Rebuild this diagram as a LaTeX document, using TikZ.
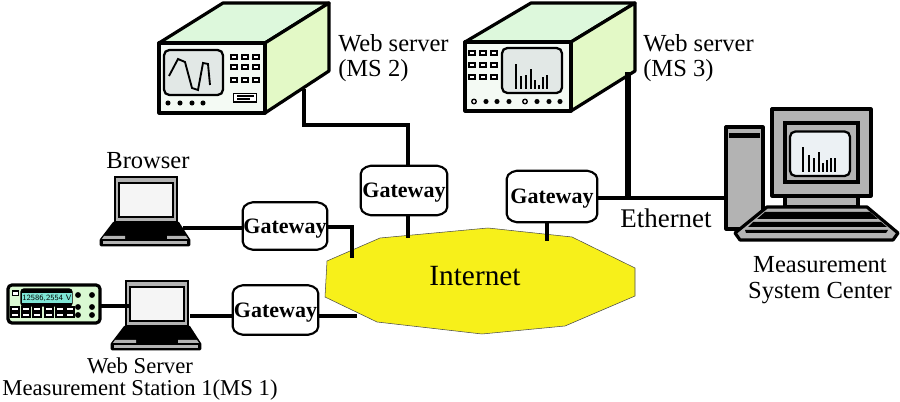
\documentclass[tikz,border=0pt]{standalone}
\usepackage{fontspec}
\setmainfont{Liberation Serif}
\usepackage{tikz}
\usetikzlibrary{positioning,calc}

\definecolor{topgreen}{HTML}{DDF8DC}
\definecolor{sidegreen}{HTML}{E3F9C6}
\definecolor{frontgreen}{HTML}{F4FAF4}
\definecolor{screengray}{HTML}{E2E8E6}
\definecolor{screenblue}{HTML}{ECF1F4}
\definecolor{cloudyellow}{HTML}{F7F01A}
\definecolor{pcgray}{HTML}{B3B3B3}
\definecolor{metergreen}{HTML}{DAF9D2}
\definecolor{metercyan}{HTML}{7FE6D6}

\tikzset{
    wire/.style={line width=2.4pt},
    heavywire/.style={line width=3.4pt},
    boxline/.style={line width=2.4pt, line join=round},
    gateline/.style={line width=1.6pt, line join=round},
    gatebox/.style={inner sep=0pt, text depth=0pt, font=\fontsize{16.5}{18}\selectfont\bfseries},
    caption/.style={inner sep=0pt, align=center, font=\fontsize{18.4}{19}\selectfont},
    knob/.style={fill=black},
    pics/laptop/.style={code={
        % Lid
        \draw[line width=2pt, fill=pcgray] (115,177) rectangle (177,222);
        \draw[line width=1.8pt, fill=white!96!black] (119,183) rectangle (173,217);
        % Base
        \draw[line width=2pt, line join=round, fill=black] (114,223) -- (178,223) -- (189,240) -- (189,245) -- (101,245) -- (101,240) -- cycle;
        \fill[pcgray] (104,236) -- (125,236) -- (125,239) -- (102,239) -- cycle;
        \fill[pcgray] (167,236) -- (186,236) -- (188,239) -- (167,239) -- cycle;
        \fill[pcgray] (103,241) rectangle (187,244);
    }}
}

\begin{document}
\begin{tikzpicture}[x=0.75pt, y=-0.75pt]
    \useasboundingbox (0,0) rectangle (900,402);

    % Internet
    \draw[line width=0.4pt, draw=black!70, fill=cloudyellow] (327,261) -- (380,238) -- (488,228) -- (572,237) -- (635,268) -- (635,296) -- (565,326) -- (482,334) -- (377,322) -- (325,297) -- cycle;
    \node[inner sep=0pt, font=\fontsize{22}{24}\selectfont] (inet) at (475,276) {Internet};
    \coordinate (inleft) at (352,258);
    \coordinate (intop) at (408,238);
    \coordinate (inright) at (547,241);
    \coordinate (inlow) at (357,316);

    % Gateways
    \node[gatebox, minimum width=63pt, minimum height=35.25pt] (gwa) at (285,226) {Gateway};
    \node[gatebox, minimum width=64.5pt, minimum height=36.75pt] (gwb) at (404,190.5) {Gateway};
    \node[gatebox, minimum width=67.5pt, minimum height=38.25pt] (gwc) at (552,196.5) {Gateway};
    \node[gatebox, minimum width=63.75pt, minimum height=36.75pt] (gwd) at (275.5,310) {Gateway};
    \foreach \g in {gwa, gwb, gwc, gwd} {
        \draw[gateline] ($(\g.north west)+(0,8)$) .. controls +(0,-6) and +(-6,-1) .. ($(\g.north west)+(15,0)$)
            -- ($(\g.north east)+(-15,0)$) .. controls +(6,-1) and +(0,-6) .. ($(\g.north east)+(0,8)$)
            -- ($(\g.south east)+(0,-8)$) .. controls +(0,6) and +(6,1) .. ($(\g.south east)+(-15,0)$)
            -- ($(\g.south west)+(15,0)$) .. controls +(-6,1) and +(0,6) .. ($(\g.south west)+(0,-8)$) -- cycle;
    }

    % Web server MS 2
    \draw[boxline, fill=topgreen] (159,43) -- (223,3) -- (329,3) -- (265,43) -- cycle;
    \draw[boxline, fill=sidegreen] (265,43) -- (329,3) -- (329,71) -- (265,113) -- cycle;
    \draw[boxline, fill=frontgreen] (159,43) rectangle (265,113);
    \draw[line width=1.7pt, fill=screengray, rounded corners=4pt] (164,50) rectangle (223,95);
    \draw[line width=1.4pt] (169,76) -- (178,59) -- (185,62) -- (192,88) -- (198,90) -- (203,63) -- (208,64) -- (210,85);
    \foreach \y in {57,67,80} {
        \foreach \x in {234,245,256} {
            \draw[line width=1.2pt, fill=white] (\x-3,\y-1.8) rectangle (\x+3,\y+1.8);
        }
    }
    \foreach \x in {168,180,192,203} {
        \fill[knob] (\x,103) circle (1.9pt);
    }
    \draw[line width=1pt, fill=white] (233.5,93.5) rectangle (256.5,102);
    \draw[line width=1pt] (237,96) -- (254,96) (237,99) -- (250,99);
    \node[caption, align=left, anchor=west] (msb) at (338,58) {Web server\\(MS 2)};
    \coordinate (msbout) at (304,89);

    % Web server MS 3
    \draw[boxline, fill=topgreen] (465,42) -- (531,3) -- (635,3) -- (571,42) -- cycle;
    \draw[boxline, fill=sidegreen] (571,42) -- (635,3) -- (635,71) -- (571,111) -- cycle;
    \draw[boxline, fill=frontgreen] (465,42) rectangle (571,111);
    \draw[line width=1.7pt, fill=screengray, rounded corners=4pt] (502,48) rectangle (562,93);
    \foreach \x/\t in {515.5/64, 520.5/76, 526/75, 531/69, 535/80, 539/85, 543/77, 547/75} {
        \draw[line width=1.5pt] (\x,89) -- (\x,\t);
    }
    \foreach \y in {53,65,77} {
        \foreach \x in {472,483,494} {
            \draw[line width=1.2pt, fill=white] (\x-3,\y-1.8) rectangle (\x+3,\y+1.8);
        }
    }
    \foreach \x in {474,525} {
        \draw[line width=1pt, fill=white] (\x,101.5) circle (1.7pt);
    }
    \foreach \x in {486,497,509,537,549,560} {
        \fill[knob] (\x,101.5) circle (1.9pt);
    }
    \node[caption, align=left, anchor=west] (msc) at (643,58) {Web server\\(MS 3)};
    \coordinate (mscout) at (628,72);
    \coordinate (hub) at (628,198);

    % Measurement system center
    \draw[boxline, fill=pcgray] (726,127) rectangle (763,229);
    \fill (729,133) rectangle (760,138);
    \draw[boxline, fill=pcgray] (772,109) rectangle (871,196);
    \draw[line width=2.4pt, fill=pcgray] (785,123) rectangle (858,182);
    \draw[line width=1.7pt, fill=screenblue, rounded corners=4pt] (790,131.5) rectangle (850,176);
    \foreach \x/\t in {803/147, 808.5/155, 814/158, 819/152, 823/163, 827/160, 831/158, 835/158} {
        \draw[line width=1.5pt] (\x,172) -- (\x,\t);
    }
    \draw[boxline, fill=pcgray] (785,196) rectangle (858,207);
    \draw[boxline, fill=pcgray] (767,207) -- (867,207) -- (898,233) -- (893,240) -- (740,240) -- (735,233) -- cycle;
    \fill (765,212) -- (870,212) -- (878,219) -- (757,219) -- cycle;
    \fill (753,222) -- (881,222) -- (887,227) -- (748,227) -- cycle;
    \fill (745,230) -- (888,230) -- (886,233) -- (746,233) -- cycle;
    \node[caption] (mscenter) at (820,280) {Measurement\\System Center};
    \coordinate (pcin) at (728,198);

    % Browser laptop
    \pic at (0,0) {laptop};
    \node[caption] (browser) at (148,161) {Browser};
    \coordinate (lapa) at (183,228);

    % Web server laptop
    \pic at (11,104) {laptop};
    \coordinate (lapb) at (190,316);
    \coordinate (lapbin) at (129,306);
    \node[caption, font=\fontsize{17}{17}\selectfont] (msa) at (140,379) {Web Server\\Measurement Station 1(MS 1)};

    % Multimeter
    \draw[line width=2.4pt, fill=metergreen, rounded corners=3pt] (8,285) rectangle (100,323);
    \draw[line width=0.8pt, fill=black, rounded corners=2pt] (21,289) rectangle (72,306);
    \node[fill=metercyan, inner sep=0pt, minimum width=32pt, minimum height=7pt, font=\sffamily\fontsize{6}{6}\selectfont] (volts) at (47,298) {12586,2554 V};
    \draw[line width=1pt, fill=white] (12.5,291) rectangle (18.5,295.5);
    \foreach \y in {309,315} {
        \foreach \x in {15,26,37,49,60,70} {
            \draw[line width=1.1pt, fill=white] (\x-3.8,\y-2) rectangle (\x+3.8,\y+2);
        }
    }
    \foreach \x in {78,92} {
        \foreach \y in {295,307,315} {
            \fill[knob] (\x,\y) circle (2.2pt);
        }
    }
    \coordinate (meter) at (100,306);

    % Links
    \draw[wire] (msbout) -- (304,125) -| (intop |- gwb.north);
    \draw[wire] (intop |- gwb.south) -- (intop);
    \draw[wire] (inright |- gwc.south) -- (inright);
    \draw[heavywire] (hub -| gwc.east) -- (pcin);
    \draw[line width=3.8pt] (mscout) -- (hub);
    \draw[wire] (lapa) -- (lapa -| gwa.west);
    \draw[wire] (gwa.east) ++(0,1) -| (inleft);
    \draw[wire] (lapb) -- (lapb -| gwd.west);
    \draw[wire] (inlow -| gwd.east) -- (inlow);
    \draw[wire] (meter) -- (lapbin);

    \node[caption, font=\fontsize{20.2}{22}\selectfont] (ether) at (666,218) {Ethernet};
\end{tikzpicture}
\end{document}
